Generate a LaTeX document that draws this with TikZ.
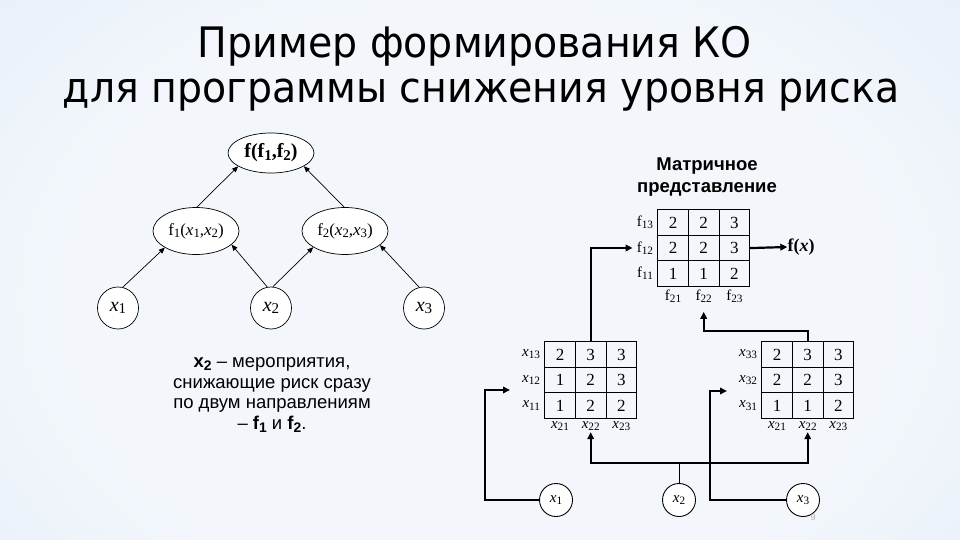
\documentclass[tikz,border=0pt]{standalone}
\usepackage{fontspec}
\setmainfont{Liberation Serif}
\setsansfont{Liberation Sans}
\newfontfamily\titlefont{DejaVu Sans}[FakeStretch=0.94]
\usetikzlibrary{arrows.meta,shapes.geometric,positioning,matrix,calc}
\definecolor{bgin}{RGB}{243,247,252}
\definecolor{bgout}{RGB}{194,214,236}
\pgfdeclareradialshading{bgshade}{\pgfpoint{0bp}{0bp}}{color(0bp)=(bgin); color(20bp)=(bgin); color(70bp)=(bgout)}
\newcommand\lowr[1]{\raisebox{-0.3ex}{\scalebox{0.75}{#1}}}
\tikzset{
  tnode/.style={draw, ellipse, fill=white, line width=0.7pt, inner sep=0pt, font=\fontsize{17}{18}\selectfont},
  tarrow/.style={line width=0.7pt, -{Triangle[length=6pt,width=5pt]}},
  conn/.style={line width=2.2pt, -{Triangle[length=7pt,width=6.5pt]}},
  thinline/.style={line width=0.9pt},
  cell/.style={draw, line width=0.9pt, minimum width=30.7pt, minimum height=25.5pt, inner sep=0pt, font=\fontsize{17}{17}\selectfont},
  gridmat/.style={matrix of nodes, nodes={cell}, column sep=-0.9pt, row sep=-0.9pt, inner sep=0pt, anchor=north west},
  lbl/.style={inner sep=0pt, font=\fontsize{15}{15}\selectfont},
  bcirc/.style={draw, circle, fill=white, line width=0.9pt, minimum size=33pt, inner sep=0pt, font=\fontsize{15}{15}\selectfont},
  sanstext/.style={font=\sffamily\fontsize{18.5}{20.8}\selectfont, align=center},
}
\begin{document}
\begin{tikzpicture}[x=1pt,y=-1pt]
\useasboundingbox (0,0) rectangle (960,540);
\begin{scope}
\clip (0,0) rectangle (960,540);
\shade[shading=bgshade] (-40,-80) rectangle (1000,680);
\end{scope}

% title
\node[anchor=base, font=\titlefont\fontsize{42}{45}\selectfont] (t1) at (475,58) {Пример формирования КО};
\node[anchor=base, font=\titlefont\fontsize{42}{45}\selectfont] (t2) at (481,103) {для программы снижения уровня риска};

% tree
\node[tnode, minimum width=86pt, minimum height=40pt, font=\fontsize{20}{20}\selectfont] (top) at (271,153) {\textbf{f(f\lowr{1},f\lowr{2})}};
\node[tnode, minimum width=86pt, minimum height=47pt] (f1) at (196,231) {f\lowr{1}(\textit{x}\lowr{1},\textit{x}\lowr{2})};
\node[tnode, minimum width=86pt, minimum height=47pt] (f2) at (345,231) {f\lowr{2}(\textit{x}\lowr{2},\textit{x}\lowr{3})};
\node[tnode, minimum width=41pt, minimum height=42pt, font=\fontsize{20}{20}\selectfont] (x1) at (118,308) {\textit{x}\lowr{1}};
\node[tnode, minimum width=41pt, minimum height=42pt, font=\fontsize{20}{20}\selectfont] (x2) at (271,308) {\textit{x}\lowr{2}};
\node[tnode, minimum width=41pt, minimum height=42pt, font=\fontsize{20}{20}\selectfont] (x3) at (424,308) {\textit{x}\lowr{3}};
\draw[tarrow] (x1.77) -- (f1.208);
\draw[tarrow] (x2.100) -- (f1.339);
\draw[tarrow] (x2.85) -- (f2.207);
\draw[tarrow] (x3.103) -- (f2.338);
\draw[tarrow] (f1.88) -- (top.202);
\draw[tarrow] (f2.92) -- (top.338);

% note
\node[sanstext] (note) at (272,395) {\textbf{x\lowr{2}} – мероприятия,\\снижающие риск сразу\\по двум направлениям\\– \textbf{f\lowr{1}} и \textbf{f\lowr{2}}.};

% matrix title
\node[font=\sffamily\bfseries\fontsize{18.5}{22}\selectfont, align=center] (mt) at (707,177) {Матричное\\представление};

% F matrix
\matrix (F) [gridmat] at (657,209) {2 & 2 & 3\\ 2 & 2 & 3\\ 1 & 1 & 2\\};
\node[lbl, left=4pt of F-1-1] (f13) {f\lowr{13}};
\node[lbl, left=4pt of F-2-1] (f12) {f\lowr{12}};
\node[lbl, left=4pt of F-3-1] (f11) {f\lowr{11}};
\node[lbl, below=3pt of F-3-1] (f21) {f\lowr{21}};
\node[lbl, below=3pt of F-3-2] (f22) {f\lowr{22}};
\node[lbl, below=3pt of F-3-3] (f23) {f\lowr{23}};
\node[font=\fontsize{18}{18}\selectfont, inner sep=0pt] (fx) at (801,247) {\textbf{f(\textit{x})}};
\draw[conn] (F-2-3.east) -- (fx.west);

% A matrix (x1 x2)
\matrix (A) [gridmat] at (544,341) {2 & 3 & 3\\ 1 & 2 & 3\\ 1 & 2 & 2\\};
\node[lbl, left=4pt of A-1-1] (a13) {\textit{x}\lowr{13}};
\node[lbl, left=4pt of A-2-1] (a12) {\textit{x}\lowr{12}};
\node[lbl, left=4pt of A-3-1] (a11) {\textit{x}\lowr{11}};
\node[lbl, below=3pt of A-3-1] (a21) {\textit{x}\lowr{21}};
\node[lbl, below=3pt of A-3-2] (a22) {\textit{x}\lowr{22}};
\node[lbl, below=3pt of A-3-3] (a23) {\textit{x}\lowr{23}};

% B matrix (x3 x2)
\matrix (B) [gridmat] at (761,341) {2 & 3 & 3\\ 2 & 2 & 3\\ 1 & 1 & 2\\};
\node[lbl, left=4pt of B-1-1] (b33) {\textit{x}\lowr{33}};
\node[lbl, left=4pt of B-2-1] (b32) {\textit{x}\lowr{32}};
\node[lbl, left=4pt of B-3-1] (b31) {\textit{x}\lowr{31}};
\node[lbl, below=3pt of B-3-1] (b21) {\textit{x}\lowr{21}};
\node[lbl, below=3pt of B-3-2] (b22) {\textit{x}\lowr{22}};
\node[lbl, below=3pt of B-3-3] (b23) {\textit{x}\lowr{23}};

% bottom circles
\node[bcirc] (c1) at (556,500) {\textit{x}\lowr{1}};
\node[bcirc] (c2) at (679,500) {\textit{x}\lowr{2}};
\node[bcirc] (c3) at (803,500) {\textit{x}\lowr{3}};

% connectors
\draw[conn] (A-1-2.north) |- ([xshift=-4pt]f12.west);
\draw[conn] (B-1-2.north) -- ++(0,-10) -| ([yshift=-9pt]f22.south);
\coordinate (inA) at (510,390);
\draw[conn] (c1.west) -- ++(-54,0) |- (inA);
\coordinate (bar) at (679,463);
\draw[thinline] (c2.north) -- (bar);
\draw[conn] (bar) -| ([yshift=-1pt]a22.south);
\draw[conn] (bar) -| ([yshift=-1pt]b22.south);
\coordinate (inB) at (727,391);
\draw[conn] (c3.west) -- ++(-76,0) |- (inB);

% page number
\node[font=\sffamily\fontsize{9}{9}\selectfont, text=black!30] (pg) at (813,517) {9};
\end{tikzpicture}
\end{document}
